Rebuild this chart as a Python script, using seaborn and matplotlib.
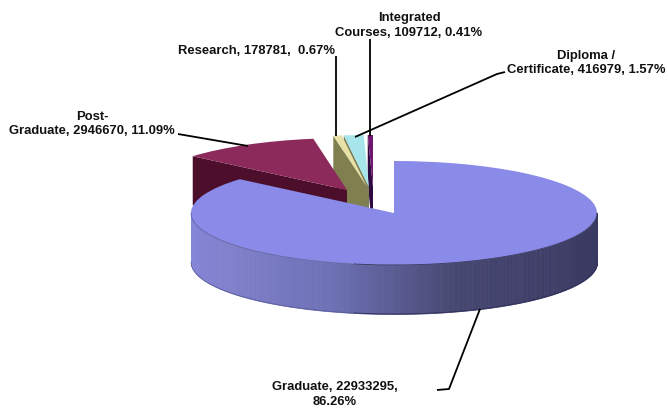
import numpy as np
import matplotlib.pyplot as plt
import seaborn as sns

# Data
categories = ['Graduate', 'Post-Graduate', 'Research', 'Diploma / Certificate', 'Integrated Courses']
students = [22933295, 2946670, 178781, 416979, 109712]
labels = ['Graduate, 22933295,\n86.26%',
          'Post-\nGraduate, 2946670, 11.09%',
          'Research, 178781,  0.67%',
          'Diploma /\nCertificate, 416979, 1.57%',
          'Integrated\nCourses, 109712, 0.41%']

# Look of each slice
top_colors = ['#8a8ae8', '#8c2a5c', '#e8e2a8', '#a6e6ea', '#6e1670']
wall_colors = ['#8686dc', '#4c0e2a', '#7f7f50', '#7f8058', '#2e0a40']
rim_stops = ['#8888dc', '#8080cc', '#6c70b4', '#45466f', '#3c3c66', '#3a3a60']

# Layout, in pixels of the 668x410 picture
W, H = 668, 410
cx, cy, rx, ry, depth = 394, 214, 203, 52, 49
shift = [(0, 0), (-47, -23), (-27, -26), (-25, -26), (-21, -26)]
label_pos = [(334.5, 394.5), (92, 124), (257, 51), (586, 63), (409, 25.5)]
leaders = [[(480, 310), (449, 390), (437, 391)],
           [(178, 135), (248, 147)],
           [(336, 57), (336, 137)],
           [(355, 138), (497, 75), (505, 73)],
           [(370, 40), (370, 137)]]

sns.set_theme(style='white')
plt.rcParams['font.family'] = ['Liberation Sans', 'DejaVu Sans']

fig = plt.figure(figsize=(W / 100, H / 100), dpi=100)
ax = fig.add_axes([0, 0, 1, 1])

shares = np.array(students) / sum(students)
ends = np.cumsum(shares) * 360
starts = ends - shares * 360


def edge_point(angle, off):
    # clockwise from 12 o'clock, in axes units (1 = one radius)
    a = np.radians(angle)
    return off[0] / rx + np.sin(a), -off[1] / ry + np.cos(a)


def draw_slice(i, z):
    off = shift[i]
    centre = (off[0] / rx, -off[1] / ry)
    ax.pie([shares[i], 1 - shares[i]], startangle=90 - starts[i], counterclock=False,
           center=centre, colors=[top_colors[i], 'none'],
           wedgeprops={'linewidth': 0, 'zorder': z})


def draw_cut_wall(i, z):
    # the radial face on the start side of an exploded slice
    off = shift[i]
    ex, ey = edge_point(starts[i], off)
    ax0, ay0 = off[0] / rx, -off[1] / ry
    d = depth / ry
    ax.fill([ex, ax0, ax0, ex], [ey, ay0, ay0 - d, ey - d], color=wall_colors[i], lw=0, zorder=z)


# small slices first, the big ones cover them
for i, z in [(4, 2), (3, 3), (2, 4), (1, 5)]:
    draw_cut_wall(i, z)
    draw_slice(i, z + 0.5)

# outer wall of the big slice, shaded from left to right
angles = np.linspace(90, 270, 361)
xs = np.sin(np.radians(angles))
ys = np.cos(np.radians(angles))
order = np.argsort(xs)
xs, ys = xs[order], ys[order]
ramp = sns.blend_palette(rim_stops, n_colors=len(xs) - 1)
for k in range(len(xs) - 1):
    ax.fill_between(xs[k:k + 2], ys[k:k + 2], ys[k:k + 2] - depth / ry,
                    color=ramp[k], lw=0.5, antialiased=False, zorder=6)
draw_slice(0, 7)
right = xs > -0.2
ax.plot(xs[right], ys[right], color='#30305a', lw=0.6, zorder=8)
ax.plot(xs[right], ys[right] - depth / ry, color='#30305a', lw=0.6, zorder=8)
ax.plot(xs[~right], ys[~right], color='#5a5a96', lw=0.5, zorder=8)
ax.plot(xs[~right], ys[~right] - depth / ry, color='#5a5a96', lw=0.5, zorder=8)

ax.set_aspect('auto')
ax.set_xlim(-cx / rx, (W - cx) / rx)
ax.set_ylim((cy - H) / ry, cy / ry)
ax.axis('off')

# labels and leader lines go on a pixel overlay
over = fig.add_axes([0, 0, 1, 1])
over.set_xlim(0, W)
over.set_ylim(H, 0)
over.axis('off')
for line in leaders:
    pts = np.array(line)
    over.plot(pts[:, 0], pts[:, 1], color='black', lw=1.3, solid_capstyle='butt')
for text, (x, y) in zip(labels, label_pos):
    over.text(x, y, text, ha='center', va='center', fontsize=9.4, fontweight='bold',
              color='#111111', linespacing=1.3)

fig.savefig('out.png', dpi=100)
